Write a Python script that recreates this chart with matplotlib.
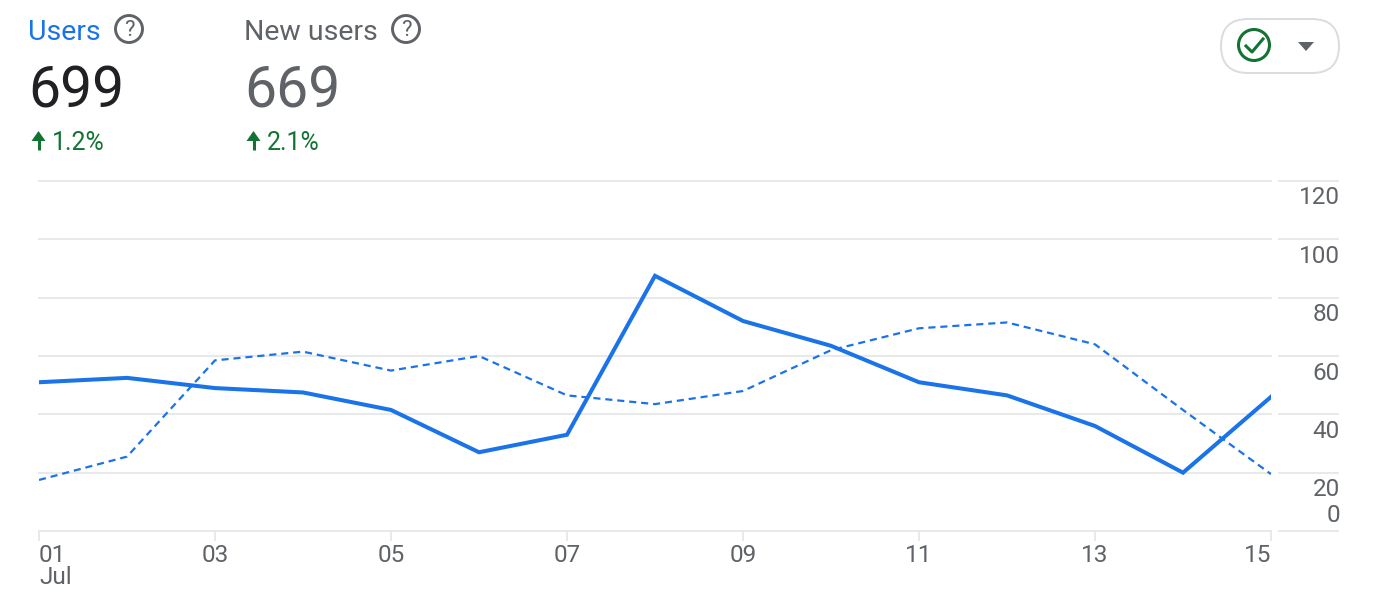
import matplotlib
matplotlib.use('Agg')
import matplotlib.pyplot as plt
from matplotlib.patches import FancyBboxPatch, Circle, Polygon

plt.rcParams['font.family'] = ['Roboto', 'DejaVu Sans']

# values
days = list(range(1, 16))
users = [51, 52.5, 49, 47.5, 41.5, 27, 33, 87.5, 72, 63.5, 51, 46.5, 36, 20, 46]
new_users = [17.5, 25.5, 58.5, 61.5, 55, 60, 46.5, 43.5, 48, 62, 69.5, 71.5, 64, 41.5, 19.5]
x_ticks = [1, 3, 5, 7, 9, 11, 13, 15]
x_labels = ['01\nJul', '03', '05', '07', '09', '11', '13', '15']
y_ticks = [0, 20, 40, 60, 80, 100, 120]
y_offsets = {0: 16, 20: -17, 40: -17, 60: -18, 80: -17, 100: -17, 120: -17}

W, H = 1376, 604
BLUE = '#1a73e8'
GRAY = '#5f6368'
DARK = '#202124'
GREEN = '#137333'
GRID = '#e8e9ea'

fig = plt.figure(figsize=(W / 100, H / 100), dpi=100)

# main chart
ax = fig.add_axes([39 / W, 1 - 531 / H, (1271 - 39) / W, (531 - 181) / H])
ax.plot(days, new_users, color=BLUE, lw=1.6, dashes=(3.2, 2.2), zorder=3)
ax.plot(days, users, color=BLUE, lw=2.9, solid_joinstyle='miter', zorder=4)
ax.set_xlim(1, 15)
ax.set_ylim(0, 120)
for s in ['top', 'left', 'right']:
    ax.spines[s].set_visible(False)
ax.spines['bottom'].set_color(GRID)
ax.spines['bottom'].set_linewidth(1.4)
ax.set_yticks(y_ticks)
ax.tick_params(axis='y', length=0, labelleft=False)
ax.grid(axis='y', color=GRID, lw=1.4, clip_on=False)
ax.set_axisbelow(True)
ax.set_xticks(x_ticks)
ax.set_xticklabels(x_labels, fontsize=17.5, color=GRAY, linespacing=1.0)
ax.tick_params(axis='x', length=7.5, width=1.4, color=GRID, pad=1.5)
labs = ax.get_xticklabels()
labs[0].set_ha('left')
labs[-1].set_ha('right')

# right hand gridline pieces and labels
for v in y_ticks:
    ax.plot([1279 / 1232 - 39 / 1232, 1338 / 1232 - 39 / 1232], [v, v], color=GRID, lw=1.4,
            transform=ax.get_yaxis_transform(), clip_on=False, zorder=1)
    ax.annotate(str(v), (1, v), xycoords=('axes fraction', 'data'), xytext=(69, y_offsets[v]),
                textcoords='offset pixels', ha='right', va='center', fontsize=17.5, color=GRAY)

# header overlay in pixel coordinates
ov = fig.add_axes([0, 0, 1, 1])
ov.set_xlim(0, W)
ov.set_ylim(H, 0)
ov.axis('off')
ov.patch.set_alpha(0)

ov.text(28, 32, 'Users', fontsize=20.5, color=BLUE, va='center', ha='left')
ov.text(244, 32, 'New users', fontsize=20.5, color=GRAY, va='center', ha='left')
ov.text(28, 92, '699', fontsize=41, color=DARK, va='center', ha='left')
ov.text(244, 92, '669', fontsize=41, color=GRAY, va='center', ha='left')
ov.text(52, 143, '1.2%', fontsize=18, color=GREEN, va='center', ha='left')
ov.text(267, 143, '2.1%', fontsize=18, color=GREEN, va='center', ha='left')

# help icons
for cx in [129, 406]:
    ov.add_patch(Circle((cx, 29), 13.5, fill=False, ec=GRAY, lw=2.1))
    ov.text(cx, 30, '?', fontsize=16, color=GRAY, ha='center', va='center')

# up arrows
for ax_x in [38.5, 253.5]:
    ov.plot([ax_x, ax_x], [137, 150], color=GREEN, lw=2.2, solid_capstyle='butt')
    ov.add_patch(Polygon([(ax_x - 7, 141), (ax_x, 131), (ax_x + 7, 141)], color=GREEN, lw=0))

# pill with check and caret
ov.add_patch(FancyBboxPatch((1221 + 27, 19 + 27), 118 - 54, 54 - 54 + 0.01,
                            boxstyle='round,pad=27,rounding_size=27',
                            fc='white', ec='#dadce0', lw=1.4))
ov.add_patch(Circle((1254, 45), 15.5, fill=False, ec=GREEN, lw=2.2))
ov.plot([1246, 1252, 1263], [46, 52, 39], color=GREEN, lw=2.2)
ov.add_patch(Polygon([(1298, 42), (1314, 42), (1306, 51)], color=GRAY, lw=0))

fig.savefig('out.png', dpi=100, facecolor='white')
